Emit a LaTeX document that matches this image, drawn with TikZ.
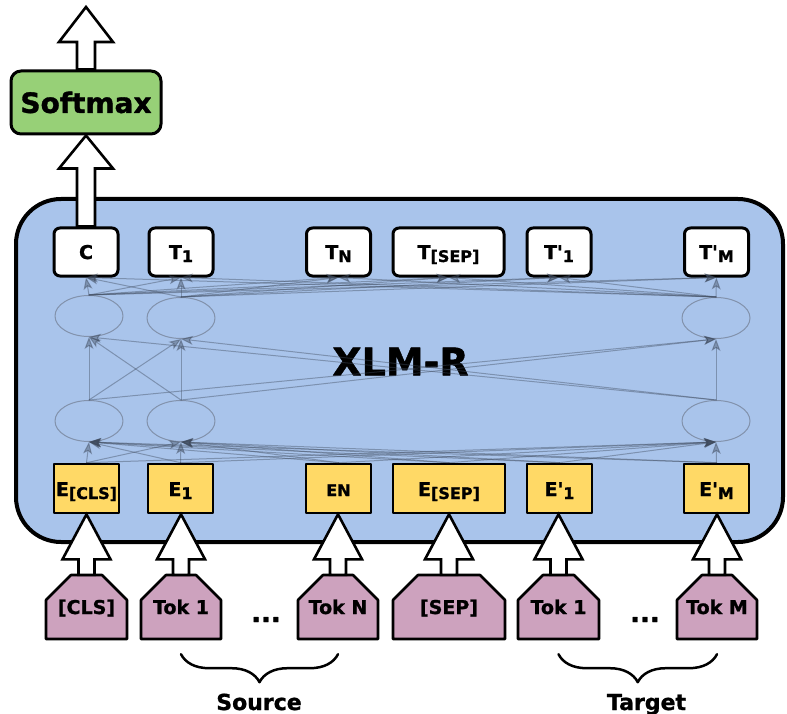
\documentclass[tikz,border=0pt]{standalone}
\usepackage{fontspec}
\setmainfont{DejaVu Sans}[BoldFeatures={FakeBold=1.2}]
\usetikzlibrary{shapes.geometric,arrows.meta,decorations.pathreplacing,calc}
\definecolor{encblue}{HTML}{A9C4EB}
\definecolor{softgreen}{HTML}{97D077}
\definecolor{embyellow}{HTML}{FFD966}
\definecolor{tokpink}{HTML}{CDA2BE}
\definecolor{linkgrey}{HTML}{3F4B5E}
\definecolor{hidgrey}{HTML}{8292AC}
\newcommand{\fs}[1]{\fontsize{#1}{#1}\selectfont\bfseries}
\newcommand{\lowsub}[1]{\raisebox{-3pt}{\fontsize{16}{16}\selectfont #1}}
% white block arrow: from, to, shaft half width, head half width, head length
\newcommand{\blockarrow}[5]{%
	\draw[blockarr] let \p1=(#1), \p2=(#2) in
		(\x1-#3pt,\y1) -- (\x1-#3pt,\y2-#5pt) -- (\x1-#4pt,\y2-#5pt) -- (\x1,\y2)
		-- (\x1+#4pt,\y2-#5pt) -- (\x1+#3pt,\y2-#5pt) -- (\x1+#3pt,\y1) -- cycle;}
\begin{document}
\begin{tikzpicture}[line cap=round,line join=round,>=stealth,x=1pt,y=-1pt,
	outbox/.style={draw,fill=white,line width=3pt,rounded corners=6pt,minimum height=48pt,minimum width=64pt,inner sep=0pt,text height=14pt,text depth=0pt},
	embbox/.style={draw,fill=embyellow,line width=2.6pt,minimum height=49pt,minimum width=65pt,inner sep=0pt,text height=15pt,text depth=0pt},
	hid/.style={draw=hidgrey,line width=1pt,ellipse,minimum width=68pt,minimum height=41pt,inner sep=0pt},
	link/.style={draw=linkgrey,opacity=0.42,line width=1pt,-{Stealth[length=12pt,width=9pt,inset=3pt]}},
	tokshape/.style={draw,fill=tokpink,line width=2.6pt},
	toktext/.style={minimum width=#1,minimum height=64pt,inner sep=0pt,text height=14pt,text depth=0pt},
	blockarr/.style={draw,fill=white,line width=2.6pt,line cap=butt,line join=miter}]
		\useasboundingbox (0,0) rectangle (787,714);
		\node[draw,fill=encblue,line width=4pt,rounded corners=45pt,minimum width=767pt,minimum height=343pt] (enc) at (399.5,370.5) {};
		\node (enclabel) at (400.5,361.5) {\fs{38}XLM-R};
		\node[draw,fill=softgreen,line width=3pt,rounded corners=10pt,minimum width=150pt,minimum height=63pt] (softmax) at (86,102.5) {\fs{28}Softmax};
		\coordinate (out) at (86,7);
		% outputs
		\node[outbox] (c) at (86,252) {\fs{19}C};
		\node[outbox] (t1) at (181,252) {\fs{19}T\lowsub{1}};
		\node[outbox] (tn) at (338.5,252) {\fs{19}T\lowsub{N}};
		\node[outbox,minimum width=111pt] (tsep) at (448.5,252) {\fs{19}T\lowsub{[SEP]}};
		\node[outbox] (tp1) at (559,252) {\fs{19}T\textquotesingle\lowsub{1}};
		\node[outbox] (tpm) at (716.5,252) {\fs{19}T\textquotesingle\lowsub{M}};
		% hidden layers
		\node[hid] (u1) at (89,316) {};
		\node[hid] (u2) at (181,318) {};
		\node[hid] (u3) at (716,318) {};
		\node[hid] (l1) at (89,421) {};
		\node[hid] (l2) at (181,421) {};
		\node[hid] (l3) at (716,421) {};
		% embeddings
		\node[embbox] (ecls) at (86.5,488.5) {\fs{19}E\lowsub{[CLS]}};
		\node[embbox] (e1) at (180.5,488.5) {\fs{19}E\lowsub{1}};
		\node[embbox] (en) at (338.5,488.5) {\fs{16}EN};
		\node[embbox,minimum width=112pt] (esep) at (449,488.5) {\fs{19}E\lowsub{[SEP]}};
		\node[embbox] (ep1) at (559.5,488.5) {\fs{19}E\textquotesingle\lowsub{1}};
		\node[embbox] (epm) at (716.5,488.5) {\fs{19}E\textquotesingle\lowsub{M}};
		\foreach \e in {ecls,e1,en,esep,ep1,epm}
			\foreach \h in {1,2,3}
				\draw[link] (\e.north) -- (l\h.south);
		\foreach \a in {1,2,3}
			\foreach \b in {1,2,3}
				\draw[link] (l\a.north) -- (u\b.south);
		\foreach \h in {1,2,3}
			\foreach \t in {c,t1,tn,tsep,tp1,tpm}
				\draw[link] (u\h.north) -- (\t.south);
		% tokens
		\foreach \nm/\xx/\hw/\txt in {tcls/86.5/40.5/{[CLS]},s1/181/40/{Tok 1},sn/338/40/{Tok N},tksep/449/56/{[SEP]},g1/558.5/40.5/{Tok 1},gm/717/40/{Tok M}}{
			\filldraw[tokshape] (\xx-\hw,639) -- (\xx-\hw,600) -- (\xx-\hw+25,575) -- (\xx+\hw-25,575) -- (\xx+\hw,600) -- (\xx+\hw,639) -- cycle;
			\node[toktext=2*\hw] (\nm) at (\xx,607) {\fs{19}\txt};
		}
		\node[anchor=base] (dots1) at (266,622) {\fs{26}...};
		\node[anchor=base] (dots2) at (645,622) {\fs{26}...};
		% block arrows
		\blockarrow{c.north}{softmax.south}{9}{27}{33}
		\blockarrow{softmax.north}{out}{9}{27}{35}
		\blockarrow{tcls.north}{ecls.south}{8}{24}{45}
		\blockarrow{s1.north}{e1.south}{8}{24}{45}
		\blockarrow{sn.north}{en.south}{8}{24}{45}
		\blockarrow{tksep.north}{esep.south}{8}{24}{45}
		\blockarrow{g1.north}{ep1.south}{8}{24}{45}
		\blockarrow{gm.north}{epm.south}{8}{24}{45}
		% groups
		\draw[decorate,decoration={brace,mirror,amplitude=28pt},line width=2.5pt] ($(s1.south)+(0,15)$) -- ($(sn.south)+(0,15)$);
		\draw[decorate,decoration={brace,mirror,amplitude=28pt},line width=2.5pt] ($(g1.south)+(0,15)$) -- ($(gm.south)+(0,15)$);
		\node[anchor=base] (src) at (259,710) {\fs{22}Source};
		\node[anchor=base] (tgt) at (646.5,710) {\fs{22}Target};
\end{tikzpicture}
\end{document}
